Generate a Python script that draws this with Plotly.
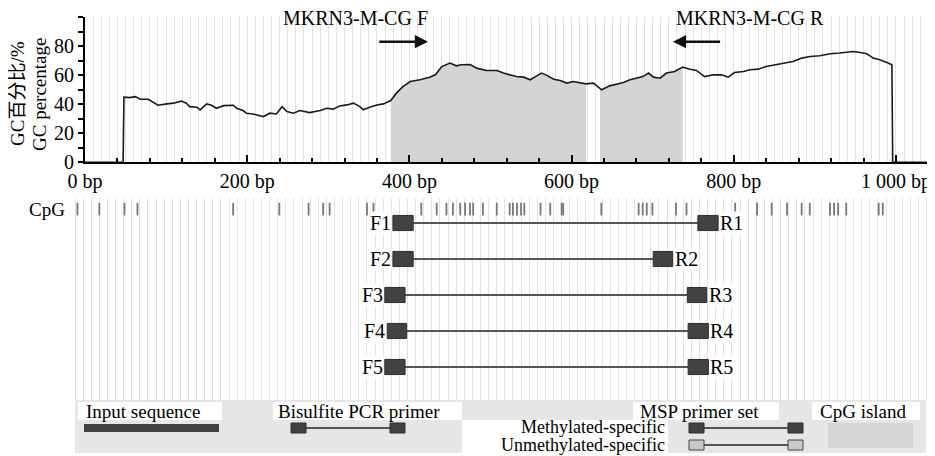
import plotly.graph_objects as go

# ---------------- data ----------------
gc_bp = [0, 47, 48, 55, 62, 68, 78, 84, 90, 101, 109, 119, 125, 129, 138, 142, 150, 156, 162, 171,
         183, 187, 195, 199, 207, 220, 228, 236, 243, 249, 257, 265, 277, 290, 298, 306, 314, 323,
         331, 339, 343, 351, 360, 368, 377, 384, 392, 401, 413, 425, 432, 440, 450, 458, 464, 475,
         483, 495, 508, 516, 524, 532, 541, 549, 557, 563, 569, 578, 586, 594, 602, 610, 618, 627,
         635, 637, 647, 656, 664, 672, 680, 688, 695, 701, 709, 717, 727, 737, 746, 754, 764, 775,
         785, 793, 801, 812, 820, 830, 840, 851, 861, 873, 884, 894, 906, 919, 931, 939, 947, 956,
         964, 972, 980, 989, 995, 996, 1042]
gc_pct = [0, 0, 44.8, 44.5, 45.2, 43.4, 43.4, 41.1, 39.3, 40.2, 40.7, 42.1, 40.7, 38.3, 37.9, 36.1,
          40.2, 39.3, 37.2, 39.0, 39.3, 37.2, 35.6, 33.8, 33.3, 31.5, 33.8, 33.3, 38.3, 34.9, 33.8,
          35.6, 34.2, 35.6, 37.2, 36.6, 38.8, 39.5, 40.7, 38.3, 36.1, 37.9, 39.5, 40.2, 42.5, 47.6,
          52.1, 55.6, 56.8, 58.6, 60.2, 65.9, 68.3, 66.4, 67.1, 67.3, 64.8, 63.2, 63.2, 61.4, 60.4,
          59.0, 58.6, 56.8, 59.5, 61.4, 60.0, 57.2, 56.3, 54.5, 55.6, 54.9, 54.0, 54.5, 51.0, 49.9,
          52.6, 54.0, 54.9, 56.8, 57.9, 59.0, 61.4, 58.6, 57.9, 61.4, 62.5, 65.5, 64.1, 63.2, 59.0,
          60.2, 60.2, 58.6, 61.8, 62.5, 63.7, 64.1, 65.9, 67.1, 68.3, 69.4, 71.7, 72.8, 73.3, 74.7,
          75.2, 75.6, 76.3, 75.6, 74.7, 71.7, 70.6, 68.7, 67.1, 0, 0]

island_start = [377, 635]
island_end = [618, 737]

x_tick_vals = [0, 200, 400, 600, 800, 1000]
x_tick_text = ["0 bp", "200 bp", "400 bp", "600 bp", "800 bp", "1 000 bp"]
y_tick_vals = [0, 20, 40, 60, 80]

primer_F_label = "MKRN3-M-CG F"
primer_R_label = "MKRN3-M-CG R"
arrow_F = [361, 423]   # tail, head (bp)
arrow_R = [785, 725]
label_F_center = 333
label_R_center = 820
arrow_level = 83

cpg_sites = [3, 30, 61, 77, 195, 252, 288, 306, 314, 360, 368, 427, 446, 458, 466, 475, 481, 487,
             491, 503, 520, 536, 540, 545, 550, 554, 574, 586, 600, 602, 649, 695, 700, 705, 712,
             741, 754, 814, 841, 859, 878, 896, 906, 931, 936, 941, 951, 991, 996]

pair_ids = ["1", "2", "3", "4", "5"]
fwd_start = [392, 392, 382, 385, 382]
fwd_end = [417, 417, 407, 409, 407]
rev_start = [768, 713, 755, 756, 756]
rev_end = [793, 737, 779, 781, 781]

# ---------------- layout helpers ----------------
OFF = 8                      # page body margin offset
W, H = 935 - OFF, 456 - OFF
ML, MR, MT, MB = 70 - OFF, 5, 17 - OFF, 4
PW = W - ML - MR
PH = H - MT - MB


def px(xp):
    """screen x pixel -> paper fraction"""
    return (xp - OFF - ML) / PW


def py(yp):
    """screen y pixel -> paper fraction"""
    return (H - MB - (yp - OFF)) / PH


FONT = "Liberation Serif, Times New Roman, Noto Sans CJK SC, serif"
GRID = "#e3e3e3"
DARK = "#424242"

fig = go.Figure()

# CpG island shading under the curve
for s, e in zip(island_start, island_end):
    xs = [b for b in gc_bp if s <= b <= e]
    ys = [v for b, v in zip(gc_bp, gc_pct) if s <= b <= e]
    fig.add_trace(go.Scatter(x=[s] + xs + [e], y=[0] + ys + [0], mode="lines",
                             fill="toself", fillcolor="#d4d4d4", line=dict(width=0),
                             hoverinfo="skip", showlegend=False, xaxis="x", yaxis="y"))

# GC curve
fig.add_trace(go.Scatter(x=gc_bp, y=gc_pct, mode="lines",
                         line=dict(color="#1a1a1a", width=1.6),
                         showlegend=False, xaxis="x", yaxis="y"))

# dummy trace for tick overlay axis
fig.add_trace(go.Scatter(x=[0], y=[0], mode="markers", marker=dict(opacity=0),
                         hoverinfo="skip", showlegend=False, xaxis="x3", yaxis="y"))

# CpG site ticks
cx, cy = [], []
for c in cpg_sites:
    cx += [c, c, None]
    cy += [0.44, 0.79, None]
fig.add_trace(go.Scatter(x=cx, y=cy, mode="lines", line=dict(color="#777777", width=1.8),
                         hoverinfo="skip", showlegend=False, xaxis="x2", yaxis="y2"))

# primer pairs
shapes = []
annotations = []
for i, pid in enumerate(pair_ids):
    r = i + 1
    fig.add_trace(go.Scatter(x=[fwd_end[i], rev_start[i]], y=[r, r], mode="lines",
                             line=dict(color="#555555", width=2.2), hoverinfo="skip",
                             showlegend=False, xaxis="x2", yaxis="y2"))
    for a, b in [(fwd_start[i], fwd_end[i]), (rev_start[i], rev_end[i])]:
        shapes.append(dict(type="rect", xref="x2", yref="y2", x0=a, x1=b, y0=r - 0.21, y1=r + 0.21,
                           fillcolor=DARK, line=dict(color="#2e2e2e", width=1)))
    annotations.append(dict(x=fwd_start[i], y=r, xref="x2", yref="y2", text="F" + pid,
                            showarrow=False, xanchor="right", yanchor="middle", xshift=-1,
                            bgcolor="white", borderpad=0, font=dict(family=FONT, size=20, color="black")))
    annotations.append(dict(x=rev_end[i], y=r, xref="x2", yref="y2", text="R" + pid,
                            showarrow=False, xanchor="left", yanchor="middle", xshift=1,
                            bgcolor="white", borderpad=0, font=dict(family=FONT, size=20, color="black")))

# primer arrows and labels
for (tail, head), lab, cen in [(arrow_F, primer_F_label, label_F_center),
                               (arrow_R, primer_R_label, label_R_center)]:
    annotations.append(dict(x=head, y=arrow_level, ax=tail, ay=arrow_level, xref="x", yref="y",
                            axref="x", ayref="y", text="", showarrow=True, arrowhead=2,
                            arrowsize=1.1, arrowwidth=2.4, arrowcolor="#111111"))
    annotations.append(dict(x=cen, y=py(18), xref="x", yref="paper", text=lab, showarrow=False,
                            xanchor="center", yanchor="middle",
                            font=dict(family=FONT, size=20, color="black")))

# y-axis title (two lines)
for txt, xx in [("GC百分比/%", 17), ("GC percentage", 39)]:
    annotations.append(dict(x=px(xx), y=py(94), xref="paper", yref="paper",
                            text=txt, textangle=-90, showarrow=False,
                            xanchor="center", yanchor="middle",
                            font=dict(family=FONT, size=19, color="black")))
# CpG row label
annotations.append(dict(x=px(67), y=py(209), xref="paper", yref="paper", text="CpG",
                        showarrow=False, xanchor="right", yanchor="middle",
                        font=dict(family=FONT, size=19, color="black")))


# ---------------- legend panel ----------------
def prect(x0, x1, y0, y1, fill, line=None, lw=0):
    shapes.append(dict(type="rect", xref="paper", yref="paper", x0=px(x0), x1=px(x1),
                       y0=py(y1), y1=py(y0), fillcolor=fill,
                       line=dict(color=line or fill, width=lw)))


def pline(x0, x1, yy, color="#555555", w=2):
    shapes.append(dict(type="line", xref="paper", yref="paper", x0=px(x0), x1=px(x1),
                       y0=py(yy), y1=py(yy), line=dict(color=color, width=w)))


prect(75, 926, 400, 453, "#e6e6e6")
prect(462, 668, 420, 453, "white")
for a, b in [(78, 222), (273, 462), (633, 779), (812, 920)]:
    prect(a, b, 402, 420, "white")
prect(84, 219, 424, 432, DARK)
pline(306, 390, 428)
prect(291, 306, 423, 433, DARK, "#2e2e2e", 1)
prect(390, 405, 423, 433, DARK, "#2e2e2e", 1)
pline(704, 788, 428)
prect(689, 704, 423, 433, DARK, "#2e2e2e", 1)
prect(788, 803, 423, 433, DARK, "#2e2e2e", 1)
pline(704, 788, 445)
prect(689, 704, 440, 450, "#c9c9c9", "#444444", 1)
prect(788, 803, 440, 450, "#c9c9c9", "#444444", 1)
prect(828, 913, 423, 448, "#d6d6d6")

for txt, xx, yy, anc, fs in [("Input sequence", 84, 411, "left", 19),
                             ("Bisulfite PCR primer", 276, 411, "left", 19),
                             ("MSP primer set", 638, 411, "left", 19),
                             ("CpG island", 818, 411, "left", 19),
                             ("Methylated-specific", 667, 427, "right", 18),
                             ("Unmethylated-specific", 667, 445, "right", 18)]:
    annotations.append(dict(x=px(xx), y=py(yy), xref="paper", yref="paper", text=txt,
                            showarrow=False, xanchor=anc, yanchor="middle",
                            font=dict(family=FONT, size=fs, color="black")))

grid_vals_top = list(range(0, 1050, 10))
top_text = [x_tick_text[x_tick_vals.index(v)] if v in x_tick_vals else "" for v in grid_vals_top]

fig.update_layout(
    width=W, height=H, margin=dict(l=ML, r=MR, t=MT, b=MB, autoexpand=False),
    paper_bgcolor="white", plot_bgcolor="white",
    font=dict(family=FONT, size=20, color="black"),
    xaxis=dict(domain=[px(85), 1], range=[0, 1042], anchor="y", automargin=False,
               tickvals=grid_vals_top, ticktext=top_text, ticks="",
               ticklabelstandoff=0,
               showgrid=True, gridcolor=GRID, gridwidth=1,
               showline=True, linecolor="black", linewidth=2, zeroline=False,
               tickfont=dict(family=FONT, size=20)),
    xaxis3=dict(overlaying="x", range=[0, 1042], anchor="y", side="bottom", automargin=False,
                showgrid=False, showticklabels=False, showline=False, zeroline=False,
                tick0=0, dtick=200, ticks="inside", ticklen=7, tickwidth=1.5, tickcolor="black",
                minor=dict(tick0=0, dtick=40, ticks="inside", ticklen=4, tickwidth=1.5,
                           tickcolor="black", showgrid=False)),
    yaxis=dict(domain=[py(162.3), 1], range=[0, 100], anchor="x", automargin=False,
               tickvals=y_tick_vals, ticks="outside", ticklen=5, tickwidth=1.5, tickcolor="black",
               minor=dict(dtick=10, ticks="outside", ticklen=5, tickwidth=1.5, tickcolor="black",
                          showgrid=False),
               showgrid=False, showline=True, linecolor="black", linewidth=2, zeroline=False,
               tickfont=dict(family=FONT, size=20)),
    xaxis2=dict(domain=[0, 1], range=[-6.165, 1054.25], anchor="y2", automargin=False,
                tickvals=list(range(0, 1060, 10)), showticklabels=False, ticks="",
                showgrid=True, gridcolor=GRID, gridwidth=1, showline=False, zeroline=False),
    yaxis2=dict(domain=[py(400), py(198)], range=[5.9167, 0.3056], anchor="x2", automargin=False,
                showticklabels=False, ticks="", showgrid=False, showline=False, zeroline=False),
    shapes=shapes, annotations=annotations,
)

fig.write_html("out.html")
